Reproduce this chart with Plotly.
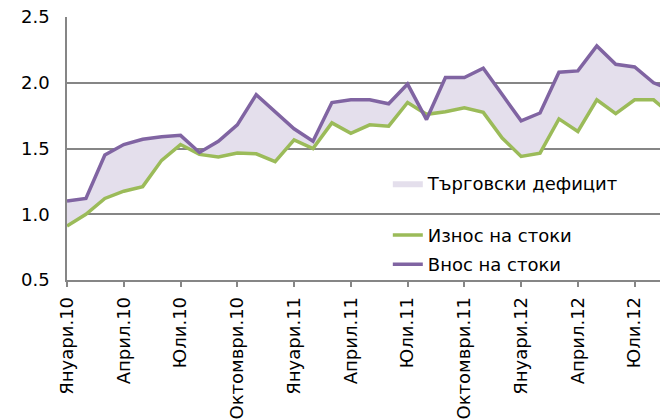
import plotly.graph_objects as go

month_names = ["Януари", "Февруари", "Март", "Април", "Май", "Юни",
               "Юли", "Август", "Септември", "Октомври", "Ноември", "Декември"]
years = ["10", "11", "12"]
months = [f"{m}.{y}" for y in years for m in month_names][:33]

exports = [0.91, 1.00, 1.12, 1.175, 1.21, 1.41, 1.53, 1.455, 1.435, 1.465, 1.46, 1.40,
           1.565, 1.50, 1.695, 1.615, 1.68, 1.67, 1.85, 1.76, 1.78, 1.81, 1.775, 1.58,
           1.44, 1.465, 1.725, 1.63, 1.87, 1.765, 1.87, 1.87, 1.75]
imports = [1.10, 1.12, 1.45, 1.53, 1.57, 1.59, 1.60, 1.47, 1.555, 1.68, 1.91, 1.78,
           1.65, 1.555, 1.85, 1.87, 1.87, 1.84, 1.99, 1.72, 2.04, 2.04, 2.11, 1.91,
           1.71, 1.77, 2.08, 2.09, 2.28, 2.14, 2.12, 2.00, 1.94]
tick_labels = months[::3]

GREEN = "#9BBB59"
PURPLE = "#8064A2"
FILL = "#E4DFEC"
GRID = "#868686"
FONT = "DejaVu Sans"

fig = go.Figure()
fig.add_trace(go.Scatter(x=months, y=exports, mode="lines", line=dict(width=0),
                         showlegend=False, hoverinfo="skip"))
fig.add_trace(go.Scatter(x=months, y=imports, mode="lines", line=dict(width=0, color=FILL),
                         fill="tonexty", fillcolor=FILL, name="Търговски дефицит",
                         legend="legend"))
fig.add_trace(go.Scatter(x=months, y=exports, mode="lines",
                         line=dict(color=GREEN, width=3.5), name="Износ на стоки",
                         legend="legend2", legendgroup="g"))
fig.add_trace(go.Scatter(x=months, y=imports, mode="lines",
                         line=dict(color=PURPLE, width=3.5), name="Внос на стоки",
                         legend="legend2", legendgroup="p"))

fig.add_shape(type="rect", xref="paper", yref="y", x0=0.4368, x1=1.0, y0=0.55, y1=1.35,
              fillcolor="white", line=dict(width=0), layer="between")

fig.update_layout(
    width=660, height=419,
    margin=dict(l=67, r=0, t=17, b=137),
    paper_bgcolor="white", plot_bgcolor="white",
    font=dict(family=FONT, size=18, color="black"),
    legend=dict(x=0.541, xanchor="left", y=0.367, yanchor="middle",
                bgcolor="rgba(0,0,0,0)", font=dict(size=18)),
    legend2=dict(x=0.541, xanchor="left", y=0.115, yanchor="middle",
                 bgcolor="rgba(0,0,0,0)", font=dict(size=18),
                 traceorder="grouped", tracegroupgap=3),
    xaxis=dict(type="category", range=[0, 31.34], tickvals=tick_labels,
               ticktext=tick_labels, tickangle=-90, ticks="outside", ticklen=5,
               tickcolor=GRID, tickwidth=1.5, showline=True, linecolor=GRID,
               linewidth=1.5, showgrid=False, tickfont=dict(size=18),
               ticklabelstandoff=3),
    yaxis=dict(range=[0.5, 2.5], dtick=0.5, tickformat=".1f", showgrid=True,
               gridcolor=GRID, gridwidth=1.5, showline=True, linecolor=GRID,
               linewidth=1.5, zeroline=False, ticks="", ticklabelstandoff=12,
               tickfont=dict(size=18)),
)

fig.write_html("out.html", config={"displayModeBar": False},
               post_script="document.body.style.margin='0';document.body.style.overflow='hidden';")
